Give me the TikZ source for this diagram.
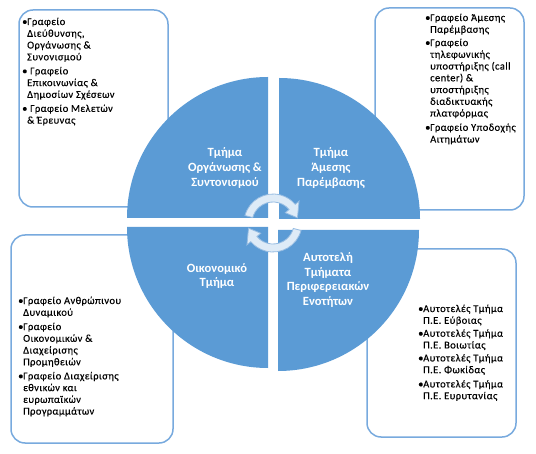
\documentclass[tikz,border=0pt]{standalone}
\usepackage{fontspec}
\setmainfont{Carlito}
\newfontfamily\boxfont[LetterSpace=4,FakeBold=0.3]{Carlito}
\definecolor{quadblue}{RGB}{91,155,213}
\definecolor{boxline}{RGB}{120,170,222}
\definecolor{arrfill}{RGB}{222,235,247}
\definecolor{arredge}{RGB}{150,188,226}
\newcommand{\bx}{\makebox[5bp][l]{•}}
\newcommand{\bxs}{\makebox[8bp][l]{•}}
\newcommand{\ix}{\hspace*{5bp}}
\tikzset{
  infobox/.style={draw=boxline, line width=1.5bp, fill=white, rounded corners=14bp},
  quad/.style={fill=quadblue},
  cyc/.style={fill=arrfill, draw=arredge, line width=0.8bp},
  qlabel/.style={text=white, font=\fontsize{12.6}{15}\selectfont\bfseries, align=center, inner sep=0pt},
  blist/.style={anchor=base west, inner sep=0pt, text=black, font=\boxfont\fontsize{10.5}{11.8}\selectfont}
}
\begin{document}
\begin{tikzpicture}[x=1bp, y=1bp, yscale=-1]
\useasboundingbox (0,0) rectangle (536,454);
% boxes
\draw[infobox] (19,10) rectangle (168,207);
\draw[infobox] (375,8) rectangle (524,210);
\draw[infobox] (11,235) rectangle (173,443);
\draw[infobox] (367,249) rectangle (516,437);
% quadrants
\fill[quad] (268,218) -- ++(-141,0) arc[start angle=180, end angle=270, radius=141] -- cycle;
\fill[quad] (279,219) -- ++(0,-141) arc[start angle=270, end angle=360, radius=141] -- cycle;
\fill[quad] (278,230) -- ++(141,0) arc[start angle=0, end angle=90, radius=141] -- cycle;
\fill[quad] (268,227) -- ++(0,141) arc[start angle=90, end angle=180, radius=141] -- cycle;
% circular arrows
\begin{scope}[shift={(273,223)}]
\draw[cyc] (-165:29) arc[start angle=-165, end angle=-40, radius=29] -- (-40:34) -- (-12:25) -- (-40:16) -- (-40:21) arc[start angle=-40, end angle=-165, radius=21] -- cycle;
\draw[cyc] (15:29) arc[start angle=15, end angle=140, radius=29] -- (140:34) -- (168:25) -- (140:16) -- (140:21) arc[start angle=140, end angle=15, radius=21] -- cycle;
\end{scope}
% quadrant labels
\node[qlabel] (qtl) at (225,168) {Τμήμα\\Οργάνωσης \&\\Συντονισμού};
\node[qlabel] (qtr) at (331,168) {Τμήμα\\Άμεσης\\Παρέμβασης};
\node[qlabel] (qbl) at (217,276) {Οικονομικό\\Τμήμα};
\node[qlabel] (qbr) at (328,280) {Αυτοτελή\\Τμήματα\\Περιφερειακών\\Ενοτήτων};
% box texts
\node[blist] (ttl) at (22,25) {\parbox[t]{150bp}{\bx Γραφείο\\\ix Διεύθυνσης,\\\ix Οργάνωσης \&\\\ix Συνονισμού\\[2.3bp]\bxs Γραφείο\\\ix Επικοινωνίας \&\\\ix Δημοσίων Σχέσεων\\[2.3bp]\bxs Γραφείο Μελετών\\\ix \& Έρευνας}};
\node[blist] (ttr) at (425,21) {\parbox[t]{150bp}{\bx Γραφείο Άμεσης\\\ix Παρέμβασης\\[1.5bp]\bx Γραφείο\\\ix τηλεφωνικής\\\ix υποστήριξης (call\\\ix center) \&\\\ix υποστήριξης\\\ix διαδικτυακής\\\ix πλατφόρμας\\[2.5bp]\bx Γραφείο Υποδοχής\\\ix Αιτημάτων}};
\node[blist] (tbl) at (18,304) {\parbox[t]{160bp}{\bx Γραφείο Ανθρώπινου\\\ix Δυναμικού\\[2.5bp]\bx Γραφείο\\\ix Οικονομικών \&\\\ix Διαχείρισης\\\ix Προμηθειών\\[2.3bp]\bx Γραφείο Διαχείρισης\\\ix εθνικών και\\\ix ευρωπαϊκών\\\ix Προγραμμάτων}};
\node[blist] (tbr) at (418,312) {\parbox[t]{150bp}{\bx Αυτοτελές Τμήμα\\\ix Π.Ε. Εύβοιας\\[1.2bp]\bx Αυτοτελές Τμήμα\\\ix Π.Ε. Βοιωτίας\\[1.2bp]\bx Αυτοτελές Τμήμα\\\ix Π.Ε. Φωκίδας\\[2.5bp]\bx Αυτοτελές Τμήμα\\\ix Π.Ε. Ευρυτανίας}};
\end{tikzpicture}
\end{document}
